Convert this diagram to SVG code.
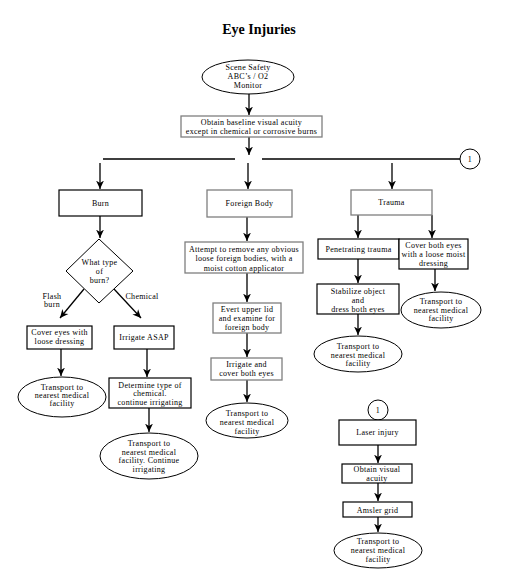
<svg xmlns="http://www.w3.org/2000/svg" width="511" height="586" viewBox="0 0 511 586">
<style>
text{font-family:"Liberation Serif","DejaVu Serif",serif;font-size:8px;fill:#000;text-anchor:middle;letter-spacing:0.3px}
.title{font-size:14px;font-weight:bold;letter-spacing:0}
.b{fill:#fff;stroke:#000;stroke-width:1.2}
.g{fill:#fff;stroke:#7f7f7f;stroke-width:1.3}
.e{fill:#fff;stroke:#000;stroke-width:1}
.c{fill:none;stroke:#000;stroke-width:1.3}
.a{fill:none;stroke:#000;stroke-width:1.3;marker-end:url(#ah)}
</style>
<defs>
<marker id="ah" markerUnits="userSpaceOnUse" markerWidth="9" markerHeight="9" viewBox="0 0 8 8" refX="7.5" refY="4" orient="auto">
<path d="M0,0.5 L7.5,4 L0,7.5 L2.2,4 Z" fill="#000"/>
</marker>
</defs>
<rect width="511" height="586" fill="#fff"/>
<text class="title" x="259" y="34">Eye Injuries</text>

<g id="connectors">
<path class="a" d="M249,94 V115"/>
<path class="a" d="M249,137 V155"/>
<path class="c" d="M103,159 H235 M262,159 H460"/>
<path class="a" d="M100,163 V189"/>
<path class="a" d="M248,163 V189"/>
<path class="a" d="M392,163 V189"/>
<path class="a" d="M100,216 V238"/>
<path class="a" d="M84,289 L60,318"/>
<path class="a" d="M114,289 L141,318"/>
<path class="a" d="M61,349 V376"/>
<path class="a" d="M147,349 V377"/>
<path class="a" d="M149,408 V432"/>
<path class="a" d="M247,217 V241"/>
<path class="a" d="M247,273 V302"/>
<path class="a" d="M247,333 V357"/>
<path class="a" d="M247,380 V402"/>
<path class="a" d="M358,215 V238"/>
<path class="a" d="M432,215 V238"/>
<path class="a" d="M358,259 V283"/>
<path class="a" d="M358,314 V335"/>
<path class="a" d="M435,269 V291"/>
<path class="a" d="M378,445 V463"/>
<path class="a" d="M378,483 V501"/>
<path class="a" d="M378,517 V532"/>
</g>

<g id="start">
<ellipse class="e" cx="248" cy="77" rx="46" ry="17"/>
<text x="248" y="70">Scene Safety</text>
<text x="248" y="79">ABC’s / O2</text>
<text x="248" y="88">Monitor</text>
</g>
<g id="baseline">
<rect class="g" x="181" y="116" width="141" height="21"/>
<text x="251.5" y="125">Obtain baseline visual acuity</text>
<text x="251.5" y="134">except in chemical or corrosive burns</text>
</g>
<g id="conn1">
<circle class="e" cx="470" cy="159" r="10"/>
<text x="470" y="162">1</text>
</g>

<g id="burn">
<rect class="b" x="59" y="190" width="83" height="26"/>
<text x="100.5" y="206">Burn</text>
</g>
<g id="whattype">
<path class="e" d="M99,239 L133,271 L99,303 L66,271 Z"/>
<text x="99.5" y="265">What type</text>
<text x="99.5" y="274">of</text>
<text x="99.5" y="283">burn?</text>
</g>
<g id="lbl-flash">
<text x="52" y="299">Flash</text>
<text x="52" y="307">burn</text>
</g>
<g id="lbl-chem">
<text x="142" y="299">Chemical</text>
</g>
<g id="cover-eyes">
<rect class="b" x="27" y="326" width="65" height="23"/>
<text x="59.5" y="335">Cover eyes with</text>
<text x="59.5" y="344">loose dressing</text>
</g>
<g id="irrigate-asap">
<rect class="b" x="114" y="326" width="60" height="23"/>
<text x="144" y="340">Irrigate ASAP</text>
</g>
<g id="transport-flash">
<ellipse class="e" cx="62" cy="397" rx="44" ry="20"/>
<text x="62" y="390">Transport to</text>
<text x="62" y="398">nearest medical</text>
<text x="62" y="406">facility</text>
</g>
<g id="determine">
<rect class="b" x="109" y="378" width="82" height="30"/>
<text x="150" y="388">Determine type of</text>
<text x="150" y="396">chemical.</text>
<text x="150" y="405">continue irrigating</text>
</g>
<g id="transport-chem">
<ellipse class="e" cx="149" cy="456" rx="49" ry="23"/>
<text x="149" y="446">Transport to</text>
<text x="149" y="455">nearest medical</text>
<text x="149" y="463">facility. Continue</text>
<text x="149" y="472">irrigating</text>
</g>

<g id="foreign-body">
<rect class="g" x="207" y="190" width="85" height="27"/>
<text x="249.5" y="206">Foreign Body</text>
</g>
<g id="attempt">
<rect class="g" x="185" y="242" width="118" height="31"/>
<text x="244" y="252">Attempt to remove any obvious</text>
<text x="244" y="261">loose foreign bodies, with a</text>
<text x="244" y="271">moist cotton applicator</text>
</g>
<g id="evert">
<rect class="g" x="213" y="303" width="68" height="30"/>
<text x="247" y="311.5">Evert upper lid</text>
<text x="247" y="320.5">and examine for</text>
<text x="247" y="330">foreign body</text>
</g>
<g id="irrigate-cover">
<rect class="g" x="211" y="358" width="71" height="22"/>
<text x="246.5" y="367">Irrigate and</text>
<text x="246.5" y="376">cover both eyes</text>
</g>
<g id="transport-fb">
<ellipse class="e" cx="247" cy="420.5" rx="41" ry="17.5"/>
<text x="247" y="415.5">Transport to</text>
<text x="247" y="424.5">nearest medical</text>
<text x="247" y="433.5">facility</text>
</g>

<g id="trauma">
<rect class="g" x="351" y="190" width="81" height="25"/>
<text x="391.5" y="205">Trauma</text>
</g>
<g id="penetrating">
<rect class="b" x="318" y="239" width="81" height="20"/>
<text x="358.5" y="252">Penetrating trauma</text>
</g>
<g id="cover-both">
<rect class="b" x="399" y="239" width="69" height="30"/>
<text x="433.5" y="248">Cover both eyes</text>
<text x="433.5" y="257">with a loose moist</text>
<text x="433.5" y="266">dressing</text>
</g>
<g id="stabilize">
<rect class="b" x="317" y="284" width="82" height="30"/>
<text x="358" y="294">Stabilize object</text>
<text x="358" y="303">and</text>
<text x="358" y="312">dress both eyes</text>
</g>
<g id="transport-pen">
<ellipse class="e" cx="358" cy="354" rx="44" ry="18"/>
<text x="358" y="349">Transport to</text>
<text x="358" y="357.5">nearest medical</text>
<text x="358" y="366">facility</text>
</g>
<g id="transport-cover">
<ellipse class="e" cx="441" cy="310" rx="40" ry="18"/>
<text x="441" y="304">Transport to</text>
<text x="441" y="312.5">nearest medical</text>
<text x="441" y="321">facility</text>
</g>

<g id="conn1b">
<circle class="e" cx="378" cy="410" r="10"/>
<text x="378" y="413">1</text>
</g>
<g id="laser">
<rect class="b" x="339" y="420" width="77" height="25"/>
<text x="377.5" y="435">Laser injury</text>
</g>
<g id="obtain-visual">
<rect class="b" x="342" y="464" width="70" height="19"/>
<text x="377" y="472">Obtain visual</text>
<text x="377" y="481">acuity</text>
</g>
<g id="amsler">
<rect class="b" x="343" y="502" width="69" height="15"/>
<text x="377.5" y="512.5">Amsler grid</text>
</g>
<g id="transport-laser">
<ellipse class="e" cx="378" cy="550.5" rx="44" ry="17.5"/>
<text x="378" y="544">Transport to</text>
<text x="378" y="553">nearest medical</text>
<text x="378" y="562">facility</text>
</g>
</svg>
